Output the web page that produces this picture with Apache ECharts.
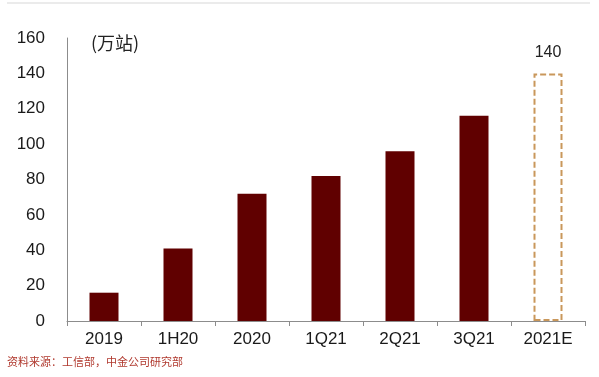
<!DOCTYPE html>
<html>
<head>
<meta charset="utf-8">
<script src="https://cdn.jsdelivr.net/npm/echarts@6/dist/echarts.min.js"></script>
<style>
  html,body{margin:0;padding:0;background:#fff;}
  #chart{width:599px;height:377px;}
</style>
</head>
<body>
<div id="chart"></div>
<script>
// 数据
const categories = ['2019', '1H20', '2020', '1Q21', '2Q21', '3Q21', '2021E'];
const stations = [16, 41, 72, 82, 96, 116, 140];
const yTicks = [0, 20, 40, 60, 80, 100, 120, 140, 160];
const forecastIndex = 6; // 2021E 为预测，虚线框

const myCharts = echarts.init(document.getElementById('chart'));

const barData = stations.map(function (v, i) {
  if (i === forecastIndex) {
    return {
      value: v,
      itemStyle: {
        color: 'rgba(255,255,255,0)',
        borderColor: '#C9975B',
        borderWidth: 2,
        borderType: [6, 3]
      },
      label: {show: true}
    };
  }
  return {value: v};
});

const option = {
  animation: false,
  backgroundColor: '#fff',
  textStyle: {fontFamily: 'Liberation Sans, Arial, sans-serif'},
  grid: {left: 67, right: 14, top: 38, bottom: 56},
  graphic: [
    {
      type: 'line',
      shape: {x1: 7, y1: 3, x2: 590, y2: 3},
      style: {stroke: '#e4e4e4', lineWidth: 1.5}
    },
    {
      type: 'text',
      left: 91,
      top: 34,
      style: {
        text: '(万站)',
        font: '18px "Noto Sans CJK SC", sans-serif',
        fill: '#222'
      }
    },
    {
      type: 'text',
      left: 7,
      top: 356,
      style: {
        text: '资料来源：工信部，中金公司研究部',
        font: '11px "Noto Sans CJK SC", sans-serif',
        fill: '#b0392e'
      }
    }
  ],
  xAxis: {
    type: 'category',
    data: categories,
    axisLine: {lineStyle: {color: '#8c8c8c', width: 1}},
    axisTick: {show: true, inside: false, length: 5, lineStyle: {color: '#8c8c8c'}},
    axisLabel: {color: '#1a1a1a', fontSize: 17, margin: 10}
  },
  yAxis: {
    type: 'value',
    min: yTicks[0],
    max: yTicks[yTicks.length - 1],
    interval: 20,
    axisLine: {show: true, lineStyle: {color: '#8c8c8c', width: 1}},
    axisTick: {show: false},
    splitLine: {show: false},
    axisLabel: {color: '#1a1a1a', fontSize: 17, margin: 22}
  },
  series: [
    {
      name: '充电站',
      type: 'bar',
      barWidth: 29,
      itemStyle: {color: '#600000'},
      label: {
        show: false,
        position: 'top',
        distance: 13,
        color: '#222',
        fontSize: 16
      },
      data: barData
    }
  ]
};
myCharts.setOption(option);
</script>
</body>
</html>
